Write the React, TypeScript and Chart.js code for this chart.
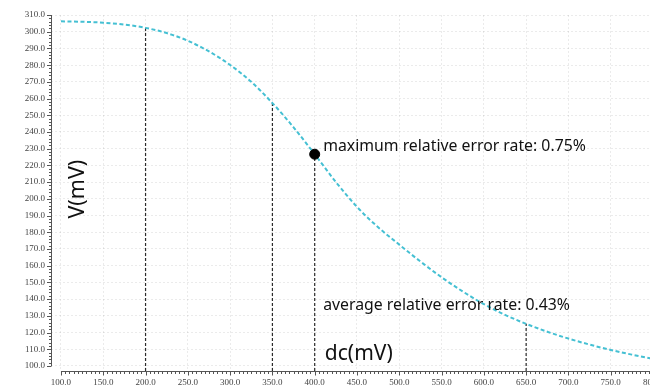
import React, { useEffect, useRef } from "react";
import { Chart, registerables } from "chart.js";

Chart.register(...registerables);

// ---- data ----
const dcValues = [
  100, 125, 150, 175, 200, 225, 250, 275, 300, 325, 350, 375, 400, 425, 450,
  475, 500, 525, 550, 575, 600, 625, 650, 675, 700, 725, 750, 775, 800,
];
const vValues = [
  306.2, 305.95, 305.4, 304.3, 302.3, 299.2, 294.6, 288.2, 280.1, 270.0, 257.3,
  242.8, 226.7, 210.1, 195.2, 183.0, 172.6, 162.5, 153.1, 144.6, 137.0, 130.6,
  125.2, 120.5, 116.4, 112.8, 109.6, 106.8, 104.3,
];
const xTickValues = [
  100, 150, 200, 250, 300, 350, 400, 450, 500, 550, 600, 650, 700, 750, 800,
];
const yTickValues = [
  100, 110, 120, 130, 140, 150, 160, 170, 180, 190, 200, 210, 220, 230, 240,
  250, 260, 270, 280, 290, 300, 310,
];
const dropLineX = [200, 350, 400, 650];
const maxErrorX = 400;
const maxErrorLabel = "maximum relative error rate: 0.75%";
const avgErrorLabel = "average relative error rate: 0.43%";
const xTitle = "dc(mV)";
const yTitle = "V(mV)";

const X_MIN = 88.2;
const X_MAX = 800;
const Y_MIN = 97.0;
const Y_MAX = 310;

const vAt = (x: number) => vValues[dcValues.indexOf(x)];

const TEXT_FONT = '"Noto Sans", "Open Sans", sans-serif';

const originAxesPlugin = {
  id: "originAxes",
  afterDatasetsDraw(chart: any) {
    const { ctx, scales, chartArea } = chart;
    const xs = scales.x;
    const ys = scales.y;
    ctx.save();
    // axis lines
    ctx.strokeStyle = "#555";
    ctx.lineWidth = 1;
    ctx.setLineDash([]);
    const axX = Math.round(chartArea.left) + 0.5;
    const axY = Math.round(chartArea.bottom) + 0.5;
    ctx.beginPath();
    ctx.moveTo(axX, ys.getPixelForValue(Y_MAX));
    ctx.lineTo(axX, ys.getPixelForValue(100));
    ctx.stroke();
    ctx.beginPath();
    ctx.moveTo(xs.getPixelForValue(100), axY);
    ctx.lineTo(xs.getPixelForValue(X_MAX), axY);
    ctx.stroke();
    // y ticks
    for (let v = 100; v <= Y_MAX + 0.001; v += 2) {
      const major = Math.abs(v % 10) < 0.001;
      const py = Math.round(ys.getPixelForValue(v)) + 0.5;
      ctx.beginPath();
      ctx.moveTo(axX - (major ? 4.5 : 2.5), py);
      ctx.lineTo(axX, py);
      ctx.stroke();
    }
    // x ticks
    for (let v = 100; v <= X_MAX + 0.001; v += 5) {
      const major = Math.abs(v % 50) < 0.001;
      const px = Math.round(xs.getPixelForValue(v)) + 0.5;
      ctx.beginPath();
      ctx.moveTo(px, axY);
      ctx.lineTo(px, axY + (major ? 4 : 2.5));
      ctx.stroke();
    }
    // texts
    ctx.fillStyle = "#111";
    ctx.textBaseline = "middle";
    ctx.textAlign = "left";
    ctx.font = `15.8px ${TEXT_FONT}`;
    ctx.fillText(maxErrorLabel, xs.getPixelForValue(410), ys.getPixelForValue(231.1));
    ctx.fillText(avgErrorLabel, xs.getPixelForValue(410), ys.getPixelForValue(135.9));
    ctx.font = `21px ${TEXT_FONT}`;
    ctx.fillText(xTitle, xs.getPixelForValue(412), ys.getPixelForValue(107.2));
    ctx.save();
    ctx.translate(xs.getPixelForValue(119.5), ys.getPixelForValue(205.8));
    ctx.rotate(-Math.PI / 2);
    ctx.textAlign = "center";
    ctx.font = `21.5px ${TEXT_FONT}`;
    ctx.fillText(yTitle, 0, 0);
    ctx.restore();
    ctx.restore();
  },
};

export default function App() {
  const canvasRef = useRef<HTMLCanvasElement | null>(null);

  useEffect(() => {
    if (!canvasRef.current) return;
    const dropSets = dropLineX.map((x) => ({
      type: "line" as const,
      data: [
        { x, y: Y_MIN },
        { x, y: vAt(x) },
      ],
      borderColor: "#2a2a2a",
      borderWidth: 1.2,
      borderDash: [3, 2],
      pointRadius: 0,
      clip: false as any,
      order: 3,
    }));
    const chart = new Chart(canvasRef.current, {
      type: "line",
      data: {
        datasets: [
          {
            type: "scatter" as any,
            data: [{ x: maxErrorX, y: vAt(maxErrorX) }],
            backgroundColor: "#000",
            borderColor: "#000",
            pointRadius: 5,
            showLine: false,
            order: 0,
          },
          {
            type: "line",
            data: dcValues.map((x, i) => ({ x, y: vValues[i] })),
            borderColor: "#45c0d3",
            borderWidth: 2,
            borderDash: [4, 2.5],
            pointRadius: 0,
            cubicInterpolationMode: "monotone",
            clip: false as any,
            order: 1,
          },
          ...dropSets,
        ] as any,
      },
      options: {
        responsive: false,
        animation: false,
        devicePixelRatio: 1,
        layout: { padding: { top: 15, right: 47, left: 0, bottom: 0 } },
        plugins: { legend: { display: false }, tooltip: { enabled: false } },
        scales: {
          x: {
            type: "linear",
            min: X_MIN,
            max: X_MAX,
            afterBuildTicks: (s: any) => {
              s.ticks = xTickValues.map((v) => ({ value: v }));
            },
            afterFit: (s: any) => {
              s.height = 19;
            },
            border: { display: false, dash: [2, 2] },
            grid: { color: "rgba(0,0,0,0.08)", drawTicks: false, lineWidth: 1 },
            ticks: {
              padding: 6,
              autoSkip: false,
              maxRotation: 0,
              color: "#444",
              font: { family: '"Liberation Serif", serif', size: 9 },
              callback: (v: any) => Number(v).toFixed(1),
            },
          },
          y: {
            type: "linear",
            min: Y_MIN,
            max: Y_MAX,
            afterBuildTicks: (s: any) => {
              s.ticks = yTickValues.map((v) => ({ value: v }));
            },
            afterFit: (s: any) => {
              s.width = 51;
            },
            border: { display: false, dash: [2, 2] },
            grid: { color: "rgba(0,0,0,0.08)", drawTicks: false, lineWidth: 1 },
            ticks: {
              padding: 6,
              autoSkip: false,
              color: "#444",
              font: { family: '"Liberation Serif", serif', size: 9 },
              callback: (v: any) => Number(v).toFixed(1),
            },
          },
        },
      },
      plugins: [originAxesPlugin],
    });
    return () => chart.destroy();
  }, []);

  return (
    <div
      style={{
        position: "fixed",
        left: 0,
        top: 0,
        width: 650,
        height: 390,
        overflow: "hidden",
        background: "#fff",
      }}
    >
      <canvas ref={canvasRef} width={700} height={390} style={{ display: "block" }} />
    </div>
  );
}
